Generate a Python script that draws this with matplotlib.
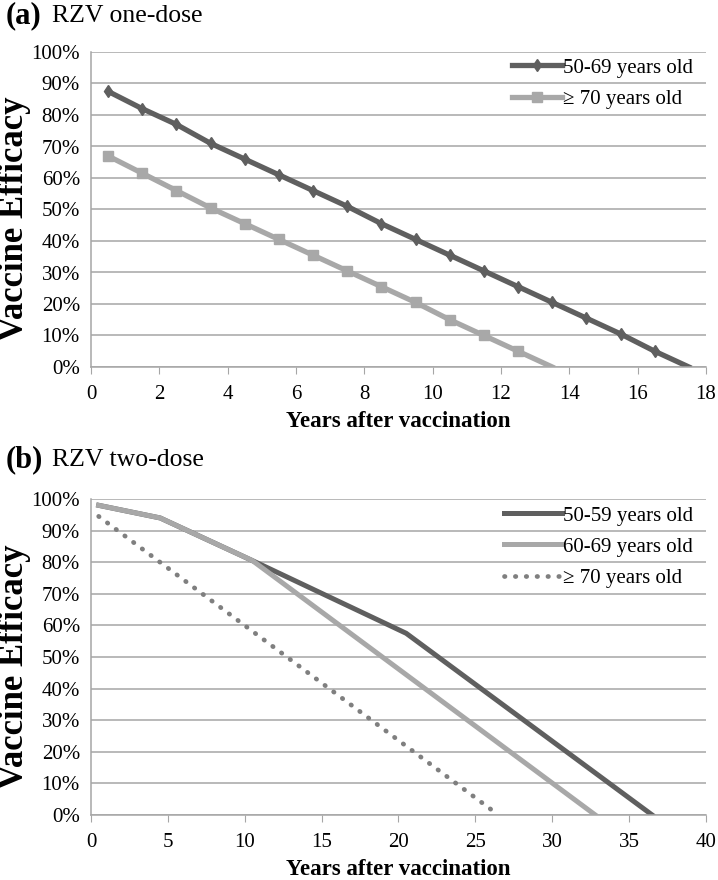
import matplotlib.pyplot as plt
from matplotlib.ticker import FuncFormatter

plt.rcParams["font.family"] = ["Liberation Serif", "DejaVu Serif"]

# (a) RZV one-dose
years_a_young = [0.5, 1.5, 2.5, 3.5, 4.5, 5.5, 6.5, 7.5, 8.5, 9.5, 10.5, 11.5, 12.5, 13.5, 14.5, 15.5, 16.5, 17.5]
ve_a_young = [87.5, 82, 77, 71, 66, 61, 56, 51, 45.5, 40.5, 35.5, 30.5, 25.5, 20.5, 15.5, 10.5, 5, 0]
years_a_old = [0.5, 1.5, 2.5, 3.5, 4.5, 5.5, 6.5, 7.5, 8.5, 9.5, 10.5, 11.5, 12.5, 13.5]
ve_a_old = [67, 61.5, 56, 50.5, 45.5, 40.5, 35.5, 30.5, 25.5, 20.5, 15, 10, 5, 0]

# (b) RZV two-dose
years_b_5059 = [0.5, 4.5, 10.5, 20.5, 36.5]
ve_b_5059 = [98, 94, 80.5, 57.5, 0]
years_b_6069 = [0.5, 4.5, 10.5, 32.8]
ve_b_6069 = [98, 94, 80.5, 0]
years_b_70 = [0.5, 26.5]
ve_b_70 = [94.5, 0]

DARK = "#5f5f5f"
LIGHT = "#a8a8a8"
DOT = "#7f7f7f"
GRID = "#a6a6a6"

W, H = 718, 880
fig = plt.figure(figsize=(W / 100, H / 100), dpi=100)


def px_axes(left, top, right, bottom):
    return fig.add_axes([left / W, 1 - bottom / H, (right - left) / W, (bottom - top) / H])


def style_axes(ax, xmax, xstep):
    ax.set_ylim(0, 100)
    ax.set_xlim(0, xmax)
    ax.set_yticks(range(0, 101, 10))
    ax.set_xticks(range(0, xmax + 1, xstep))
    ax.yaxis.set_major_formatter(FuncFormatter(lambda v, p: f"{int(v)}%"))
    ax.grid(axis="y", color=GRID, linewidth=1.1)
    ax.set_axisbelow(True)
    for s in ["top", "right"]:
        ax.spines[s].set_visible(False)
    ax.spines["left"].set_color(GRID)
    ax.spines["bottom"].set_color(GRID)
    ax.spines["left"].set_linewidth(1.1)
    ax.spines["bottom"].set_linewidth(1.1)
    ax.tick_params(axis="y", length=0, pad=8, labelsize=15)
    ax.tick_params(axis="x", length=5, color=GRID, pad=8, labelsize=15)
    ax.set_xlabel("Years after vaccination", fontsize=16.5, fontweight="bold", labelpad=5)
    ax.set_ylabel("Vaccine Efficacy", fontsize=25, fontweight="bold")
    ax.yaxis.set_label_coords(-0.097, 0.47)


ax1 = px_axes(91, 52, 706, 367)
ax1.plot(years_a_young, ve_a_young, color=DARK, lw=3.8, marker="d", ms=6,
         markevery=list(range(len(ve_a_young) - 1)), label="50-69 years old")
ax1.plot(years_a_old, ve_a_old, color=LIGHT, lw=3.8, marker="s", ms=7.5,
         markevery=list(range(len(ve_a_old) - 1)), label="\u2265 70 years old")
style_axes(ax1, 18, 2)
ax1.legend(loc="upper right", bbox_to_anchor=(1.0, 1.02), frameon=False, fontsize=15,
           handlelength=2.4, handletextpad=0.05, labelspacing=0.55, borderaxespad=0.2)

ax2 = px_axes(91, 499, 706, 815)
ax2.plot(years_b_5059, ve_b_5059, color=DARK, lw=3.6, solid_joinstyle="round", label="50-59 years old")
ax2.plot(years_b_6069, ve_b_6069, color=LIGHT, lw=3.6, solid_joinstyle="round", label="60-69 years old")
ax2.plot(years_b_70, ve_b_70, color=DOT, lw=3.4, linestyle=(0, (0.1, 2.2)),
         dash_capstyle="round", label="\u2265 70 years old")
style_axes(ax2, 40, 5)
ax2.legend(loc="upper right", bbox_to_anchor=(1.0, 1.017), frameon=False, fontsize=15,
           handlelength=2.8, handletextpad=0.05, labelspacing=0.55, borderaxespad=0.2)

fig.text(6 / W, 1 - 16 / H, "(a)", fontsize=22, fontweight="bold", va="center")
fig.text(52 / W, 1 - 16 / H, "RZV one-dose", fontsize=18.5, va="center")
fig.text(6 / W, 1 - 460 / H, "(b)", fontsize=22, fontweight="bold", va="center")
fig.text(52 / W, 1 - 460 / H, "RZV two-dose", fontsize=18.5, va="center")

fig.savefig("out.png", dpi=100)
